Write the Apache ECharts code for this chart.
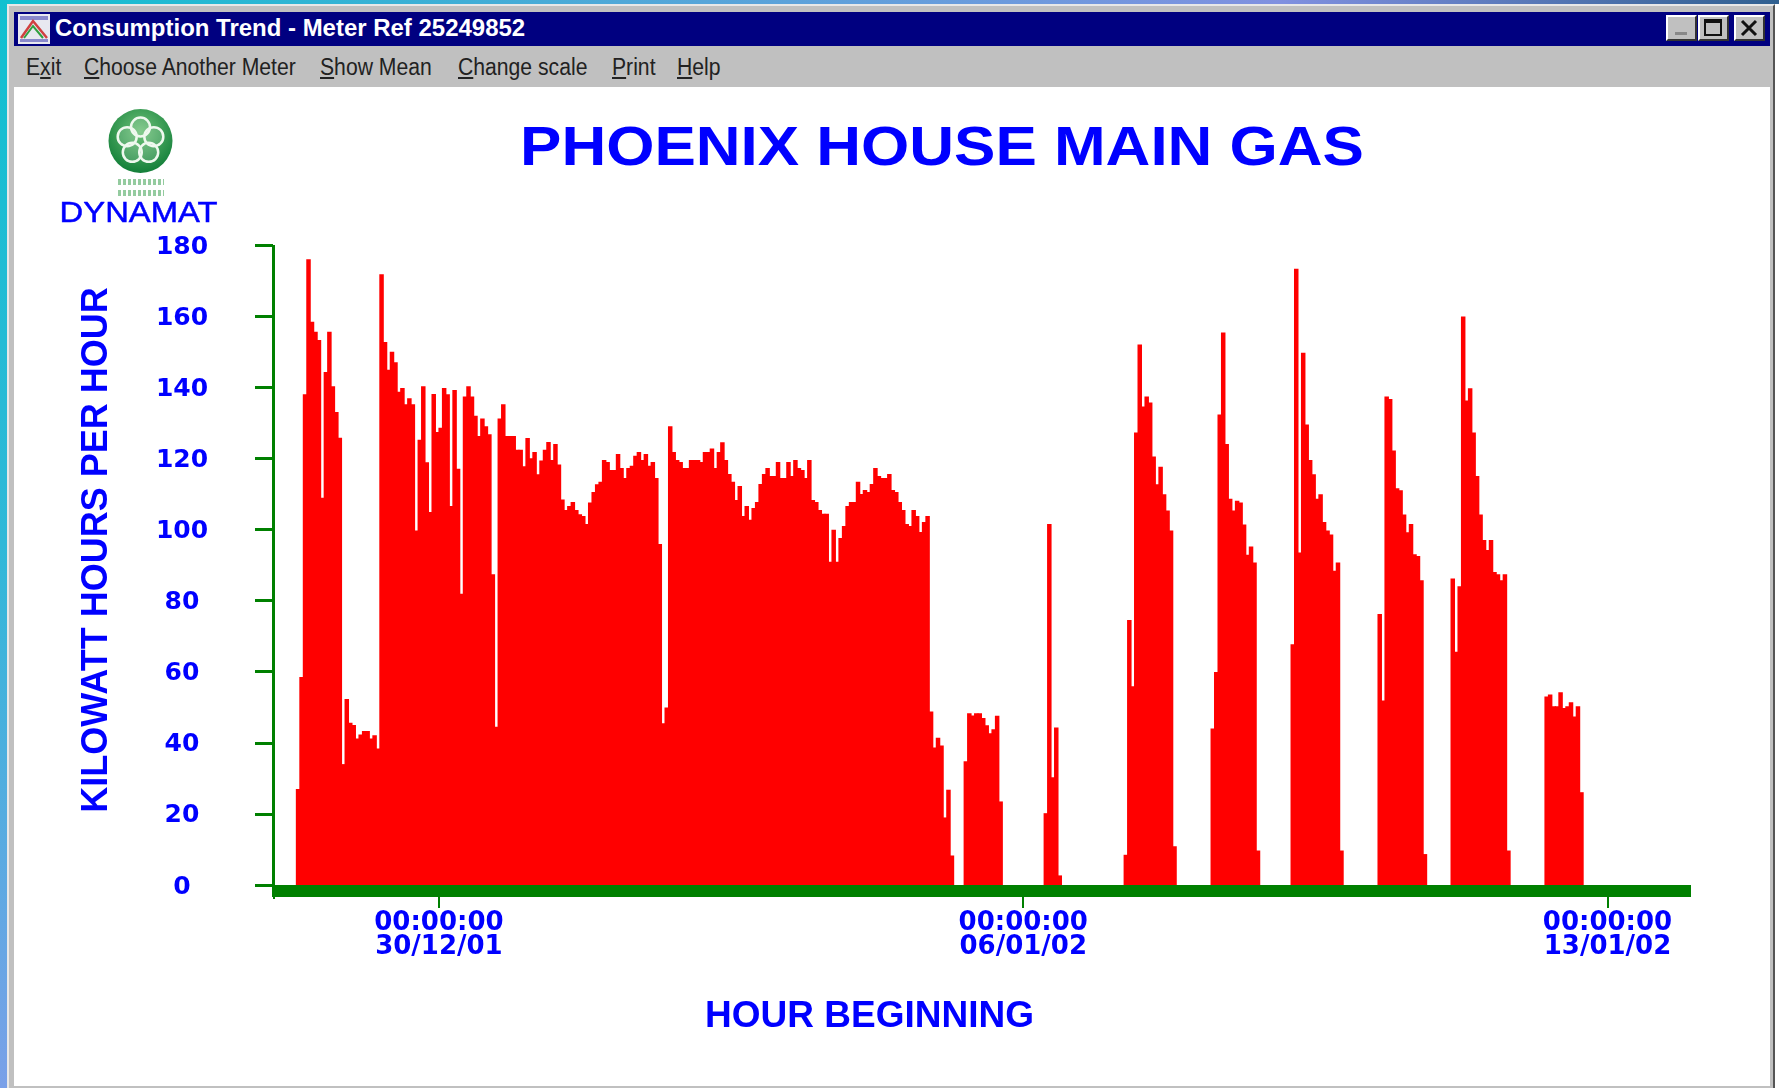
<!DOCTYPE html>
<html>
<head>
<meta charset="utf-8">
<title>Consumption Trend</title>
<script src="https://cdn.jsdelivr.net/npm/echarts@6/dist/echarts.min.js"></script>
<style>
  html, body { margin: 0; padding: 0; width: 1779px; height: 1088px; overflow: hidden; background: #fff; font-family: "Liberation Sans", sans-serif; }
  div { position: absolute; box-sizing: border-box; }
  #topStrip { left: 0; top: 0; width: 1779px; height: 4px; background: linear-gradient(90deg, #10c0d0 0%, #50a8d8 35%, #8090e0 72%, #306090 100%); }
  #leftStrip { left: 0; top: 0; width: 7px; height: 1088px; background: linear-gradient(180deg, #10c0d0 0%, #30b8d8 50%, #7aa0e8 100%); }
  #frame { left: 7px; top: 4px; width: 1768px; height: 1084px; background: #c0c0c0; border-top: 2px solid #e8e8e8; border-left: 2px solid #e8e8e8; border-right: 2px solid #555; }
  #client { left: 14px; top: 87px; width: 1756px; height: 999px; background: #fff; }
  #titleBar { left: 14px; top: 12px; width: 1756px; height: 34px; background: #000080; color: #fff; font-weight: bold; font-size: 23px; line-height: 33px; white-space: nowrap; }
  #titleText { left: 41px; top: 0; transform: scaleX(1.042); transform-origin: left center; }
  #appIcon { left: 4px; top: 2px; width: 32px; height: 30px; background: #e8e8f0; }
  .winBtn { top: 15px; width: 31px; height: 26px; background: #c0c0c0; border-top: 2px solid #fff; border-left: 2px solid #fff; border-right: 2px solid #333; border-bottom: 2px solid #333; }
  .menuItem { top: 52px; font-size: 23px; line-height: 30px; color: #222; white-space: nowrap; transform: scaleX(0.92); transform-origin: left center; }
  #chart { left: 0; top: 0; width: 1779px; height: 1088px; }
</style>
</head>
<body>
<div id="topStrip"></div>
<div id="leftStrip"></div>
<div id="frame" style="position:absolute"></div>
<div id="client"></div>
<div id="titleBar">
  <div id="appIcon">
    <svg width="32" height="30">
      <rect x="2" y="2" width="28" height="4" fill="#8888cc"/>
      <path d="M3 24 L15 7 L29 24" stroke="#d04040" stroke-width="2.5" fill="none"/>
      <path d="M6 24 L15 12 L25 24" stroke="#30a040" stroke-width="2" fill="none"/>
      <rect x="2" y="25" width="28" height="3" fill="#8888cc"/>
    </svg>
  </div>
  <div id="titleText">Consumption Trend - Meter Ref 25249852</div>
</div>
<div class="winBtn" style="left:1666px"><svg width="27" height="22"><rect x="7" y="15" width="12" height="3" fill="#888"/></svg></div>
<div class="winBtn" style="left:1698px"><svg width="27" height="22"><rect x="5" y="3" width="16" height="15" fill="none" stroke="#111" stroke-width="2"/><rect x="5" y="3" width="16" height="3" fill="#111"/></svg></div>
<div class="winBtn" style="left:1734px"><svg width="27" height="22"><path d="M6 4 L20 18 M20 4 L6 18" stroke="#111" stroke-width="3"/></svg></div>
<div class="menuItem" style="left:26px">E<u>x</u>it</div>
<div class="menuItem" style="left:84px"><u>C</u>hoose Another Meter</div>
<div class="menuItem" style="left:320px"><u>S</u>how Mean</div>
<div class="menuItem" style="left:458px"><u>C</u>hange scale</div>
<div class="menuItem" style="left:612px"><u>P</u>rint</div>
<div class="menuItem" style="left:677px"><u>H</u>elp</div>
<div id="chart"></div>
<script>
// kWh per hour, one value per hour from 00:00 on 28/12/01
const leadGap = [0, 0, 0, 0, 0, 0, 0]
const run1 = [
  27, 58.5, 138, 176, 158.4, 155.6, 153.3, 108.9, 144.3, 155.6, 140.3, 133, 125.8, 34, 52.3, 45.6, 45,
  41.2, 42.3, 43.3, 43.3, 41.2, 42.1, 38.4, 171.8, 152.7, 144.9, 150, 147, 138.7, 139.8, 135.2, 136.9,
  135.2, 99.7, 125.2, 140.3, 118.9, 104.9, 138.1, 127.4, 128.6, 139.8, 138, 106.6, 139.2, 117.1, 81.9,
  137.4, 140.3, 137.4, 132, 126.3, 131.2, 129, 126.8, 87.4, 44.5, 131.2, 135.2, 126.3, 126.3, 126.3,
  122.4, 122.4, 117.8, 125.7, 120, 121.8, 115.5, 119.4, 122.4, 124.6, 119.5, 124, 118.3, 108.4, 105.5,
  106.6, 107.7, 105.5, 104.3, 103.8, 101.5, 107.6, 110.5, 112.7, 113.4, 119.5, 119, 116.7, 116.7, 121.2,
  117.3, 114.5, 117.3, 117.9, 120.7, 121.8, 119.5, 121.2, 117.9, 119, 114.5, 95.9, 45.5, 49.9, 129,
  121.8, 119.5, 119, 117.3, 117.3, 119.5, 119.5, 119.5, 119, 121.8, 121.8, 122.8, 117.3, 121.8, 124.5,
  119.5, 115.6, 113.4, 108.3, 112.2, 103.8, 106.6, 102.7, 106, 107.7, 112.8, 115.6, 117.3, 115, 115,
  119, 114.5, 114.5, 119, 115, 119.5, 117.3, 116.7, 114.5, 119.5, 108.3, 107.7, 105.5, 104.4, 104.4,
  90.9, 99.9, 90.9, 97.6, 101, 106.6, 107.7, 107.7, 113.4, 110, 111.1, 110.5, 112.8, 117.3, 115, 114.5,
  114.5, 115.6, 111.1, 110.5, 107.7, 105.5, 101.5, 101, 105.5, 103.8, 99.3, 102.1, 103.8, 48.8, 38.7,
  41.4, 39.2, 19, 26.8, 8.3
]
const gap1 = [0, 0, 0]
const run2 = [34.8, 48.3, 47.7, 48.3, 48.3, 47, 44.9, 42.7, 43.8, 47.6, 23.5]
const gap2 = [0, 0, 0, 0, 0, 0, 0, 0, 0, 0, 0, 0]
const run3 = [20.2, 101.5, 30.3, 44.3, 2.7]
const gap3 = [0, 0, 0, 0, 0, 0, 0, 0, 0, 0, 0, 0, 0, 0, 0, 0, 0, 0]
const run4 = [8.5, 74.5, 55.9, 127.3, 152, 134.6, 137.4, 135.7, 120.5, 112.7, 117.6, 109.9, 105.3, 99.7, 10.9]
const gap4 = [0, 0, 0, 0, 0, 0, 0, 0, 0, 0]
const run5 = [44, 59.9, 132.3, 155.4, 124, 108.6, 105.3, 108.1, 107.6, 101.4, 92.9, 95.2, 90.7, 9.7]
const gap5 = [0, 0, 0, 0, 0, 0, 0, 0, 0]
const run6 = [67.7, 173.3, 93.5, 149.7, 129.5, 119.5, 115.5, 108.6, 109.9, 102.1, 99.7, 98.6, 88.4, 90.7, 9.7]
const gap6 = [0, 0, 0, 0, 0, 0, 0, 0, 0, 0]
const run7 = [76.2, 51.9, 137.4, 136.7, 122.2, 111.6, 111, 104.2, 99.2, 101.5, 93, 92.5, 85.7, 8.7]
const gap7 = [0, 0, 0, 0, 0, 0, 0]
const run8 = [86.2, 65.6, 84, 159.9, 136.3, 139.7, 127.3, 115, 104.2, 97, 94.2, 97, 88, 87.4, 85.7, 87.4, 9.7]
const gap8 = [0, 0, 0, 0, 0, 0, 0, 0, 0, 0]
const run9 = [53, 53.6, 50.3, 50.3, 54.2, 49.8, 50.3, 51.4, 47.4, 50.3, 26.1]

const hourlyValues = [].concat(leadGap, run1, gap1, run2, gap2, run3, gap3, run4, gap4, run5, gap5, run6, gap6, run7, gap7, run8, gap8, run9)
const totalHours = 408

const tickHours = [48, 216, 384]
const tickLabels = ['00:00:00\n30/12/01', '00:00:00\n06/01/02', '00:00:00\n13/01/02']

const BLUE = '#0000ff'
const GREEN = '#008000'
const RED = '#ff0000'
const FONT = '"Liberation Sans", Arial, sans-serif'
const WIDE_FONT = '"DejaVu Sans", sans-serif'

const chart = echarts.init(document.getElementById('chart'))

// the logo, a green disc with five white petals
const petals = [0, 1, 2, 3, 4].map((i) => {
  const a = -Math.PI / 2 + i * 2 * Math.PI / 5
  return {
    type: 'circle',
    shape: { cx: 140.5 + 14 * Math.cos(a), cy: 141 + 14 * Math.sin(a), r: 9.5 },
    style: { fill: 'rgba(255,255,255,0.15)', stroke: '#eef8ee', lineWidth: 2.5 },
  }
})

const option = {
  backgroundColor: 'transparent',
  animation: false,
  grid: { left: 272, right: 88, top: 245, height: 640, containLabel: false },
  xAxis: [
    {
      type: 'value',
      min: 0,
      max: totalHours,
      position: 'bottom',
      offset: 6,
      name: 'HOUR BEGINNING',
      nameLocation: 'middle',
      nameGap: 107,
      nameTextStyle: { color: BLUE, fontFamily: FONT, fontWeight: 'bold', fontSize: 37, padding: [0, 224, 0, 0] },
      splitLine: { show: false },
      axisLine: { show: true, onZero: false, lineStyle: { color: GREEN, width: 12, cap: 'butt' } },
      axisTick: { show: true, customValues: tickHours, length: 17, lineStyle: { color: GREEN, width: 2 } },
      axisLabel: {
        show: true,
        customValues: tickHours,
        formatter: (v) => tickLabels[tickHours.indexOf(v)],
        color: BLUE,
        fontFamily: WIDE_FONT,
        fontWeight: 'bold',
        fontSize: 26,
        lineHeight: 24,
        margin: 20,
      },
    },
    {
      // short stub of the left axis under the baseline
      type: 'value',
      min: 0,
      max: totalHours,
      position: 'bottom',
      splitLine: { show: false },
      axisLine: { show: false },
      axisTick: { show: true, customValues: [0.4], length: 14, lineStyle: { color: GREEN, width: 2 } },
      axisLabel: { show: false },
    },
  ],
  yAxis: {
    type: 'value',
    min: 0,
    max: 180,
    interval: 20,
    offset: -1,
    name: 'KILOWATT HOURS PER HOUR',
    nameLocation: 'middle',
    nameRotate: 90,
    nameGap: 158,
    nameTextStyle: { color: BLUE, fontFamily: FONT, fontWeight: 'bold', fontSize: 36, padding: [0, 0, 0, 30] },
    splitLine: { show: false },
    axisLine: { show: true, onZero: false, lineStyle: { color: GREEN, width: 3, cap: 'butt' } },
    axisTick: { show: true, length: 18, lineStyle: { color: GREEN, width: 3 } },
    axisLabel: {
      color: BLUE,
      fontFamily: WIDE_FONT,
      fontWeight: 'bold',
      fontSize: 25,
      align: 'center',
      verticalAlign: 'top',
      lineHeight: 4,
      margin: 91,
    },
  },
  series: [
    {
      type: 'bar',
      barWidth: 4.5,
      itemStyle: { color: RED },
      silent: true,
      data: hourlyValues.map((v, h) => [h + 0.5, v]),
    },
  ],
  graphic: [
    {
      type: 'text',
      x: 942,
      y: 149.5,
      scaleX: 1.107,
      style: { text: 'PHOENIX HOUSE MAIN GAS', fill: BLUE, font: 'bold 56px ' + FONT, textAlign: 'center', textVerticalAlign: 'middle' },
    },
    {
      type: 'text',
      x: 138.5,
      y: 214,
      scaleX: 1.13,
      style: { text: 'DYNAMAT', fill: BLUE, stroke: BLUE, lineWidth: 0.5, font: '29px ' + FONT, textAlign: 'center', textVerticalAlign: 'middle' },
    },
    {
      type: 'circle',
      shape: { cx: 140.5, cy: 141, r: 32 },
      style: {
        fill: new echarts.graphic.RadialGradient(0.5, 0.35, 0.7, [
          { offset: 0, color: '#6fc27a' },
          { offset: 1, color: '#0c7a34' },
        ]),
      },
    },
    ...petals,
    { type: 'line', shape: { x1: 118, y1: 182, x2: 164, y2: 182 }, style: { stroke: 'rgba(60,160,80,0.55)', lineWidth: 6, lineDash: [3, 2] } },
    { type: 'line', shape: { x1: 118, y1: 193, x2: 164, y2: 193 }, style: { stroke: 'rgba(60,160,80,0.55)', lineWidth: 6, lineDash: [3, 2] } },
  ],
}

chart.setOption(option)
</script>
</body>
</html>
